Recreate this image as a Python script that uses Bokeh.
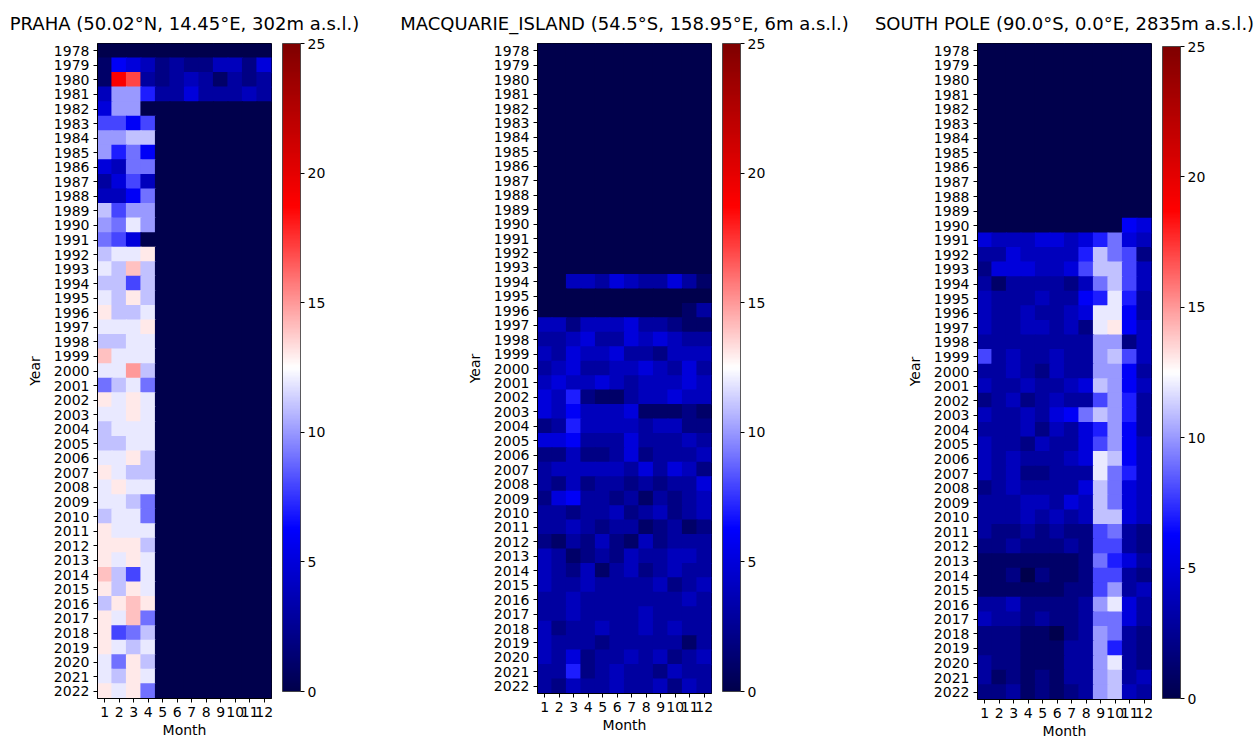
import numpy as np
from bokeh.plotting import figure
from bokeh.layouts import row
from bokeh.models import (ColumnDataSource, LinearColorMapper, ColorBar, FixedTicker,
                          Range1d, Title, Label)
from bokeh.embed import file_html
from bokeh.resources import INLINE

years = list(range(1978, 2023))
months = list(range(1, 13))
cbar_ticks = [0, 5, 10, 15, 20, 25]

titles = ["PRAHA (50.02°N, 14.45°E, 302m a.s.l.)",
          "MACQUARIE_ISLAND (54.5°S, 158.95°E, 6m a.s.l.)",
          "SOUTH POLE (90.0°S, 0.0°E, 2835m a.s.l.)"]

Z = [0] * 12

praha = [
    Z,
    [1, 6, 5, 4, 2, 3, 2, 2, 4, 4, 2, 5],
    [1, 19, 17, 3, 2, 3, 4, 3, 1, 3, 2, 3],
    [4, 10, 10, 7, 3, 3, 5, 3, 3, 3, 4, 3],
    [5, 10, 10, 0, 0, 0, 0, 0, 0, 0, 0, 0],
    [8, 8, 6, 8, 0, 0, 0, 0, 0, 0, 0, 0],
    [10, 10, 11, 11, 0, 0, 0, 0, 0, 0, 0, 0],
    [10, 7, 9, 6, 0, 0, 0, 0, 0, 0, 0, 0],
    [5, 4, 9, 9, 0, 0, 0, 0, 0, 0, 0, 0],
    [3, 5, 8, 4, 0, 0, 0, 0, 0, 0, 0, 0],
    [4, 4, 6, 9, 0, 0, 0, 0, 0, 0, 0, 0],
    [11, 8, 10, 10, 0, 0, 0, 0, 0, 0, 0, 0],
    [10, 9, 12, 10, 0, 0, 0, 0, 0, 0, 0, 0],
    [9, 8, 5, 0, 0, 0, 0, 0, 0, 0, 0, 0],
    [11, 12, 12, 13, 0, 0, 0, 0, 0, 0, 0, 0],
    [12, 11, 14, 11, 0, 0, 0, 0, 0, 0, 0, 0],
    [11, 11, 8, 11, 0, 0, 0, 0, 0, 0, 0, 0],
    [12, 11, 13, 11, 0, 0, 0, 0, 0, 0, 0, 0],
    [13, 11, 11, 12, 0, 0, 0, 0, 0, 0, 0, 0],
    [12, 12, 12, 13, 0, 0, 0, 0, 0, 0, 0, 0],
    [11, 11, 12, 12, 0, 0, 0, 0, 0, 0, 0, 0],
    [14, 12, 12, 12, 0, 0, 0, 0, 0, 0, 0, 0],
    [12, 12, 15, 11, 0, 0, 0, 0, 0, 0, 0, 0],
    [9, 11, 12, 9, 0, 0, 0, 0, 0, 0, 0, 0],
    [13, 12, 13, 12, 0, 0, 0, 0, 0, 0, 0, 0],
    [12, 12, 13, 12, 0, 0, 0, 0, 0, 0, 0, 0],
    [11, 12, 12, 12, 0, 0, 0, 0, 0, 0, 0, 0],
    [11, 11, 12, 12, 0, 0, 0, 0, 0, 0, 0, 0],
    [12, 12, 13, 11, 0, 0, 0, 0, 0, 0, 0, 0],
    [13, 12, 11, 11, 0, 0, 0, 0, 0, 0, 0, 0],
    [12, 13, 12, 12, 0, 0, 0, 0, 0, 0, 0, 0],
    [12, 12, 11, 9, 0, 0, 0, 0, 0, 0, 0, 0],
    [11, 12, 12, 9, 0, 0, 0, 0, 0, 0, 0, 0],
    [13, 12, 12, 12, 0, 0, 0, 0, 0, 0, 0, 0],
    [13, 13, 13, 11, 0, 0, 0, 0, 0, 0, 0, 0],
    [13, 12, 13, 12, 0, 0, 0, 0, 0, 0, 0, 0],
    [14, 11, 8, 12, 0, 0, 0, 0, 0, 0, 0, 0],
    [13, 11, 13, 12, 0, 0, 0, 0, 0, 0, 0, 0],
    [11, 13, 14, 13, 0, 0, 0, 0, 0, 0, 0, 0],
    [13, 12, 14, 9, 0, 0, 0, 0, 0, 0, 0, 0],
    [13, 8, 9, 11, 0, 0, 0, 0, 0, 0, 0, 0],
    [13, 12, 11, 12, 0, 0, 0, 0, 0, 0, 0, 0],
    [12, 9, 13, 11, 0, 0, 0, 0, 0, 0, 0, 0],
    [12, 11, 13, 12, 0, 0, 0, 0, 0, 0, 0, 0],
    [13, 12, 13, 9, 0, 0, 0, 0, 0, 0, 0, 0],
]

macquarie = [Z] * 16 + [
    [0, 0, 4, 4, 3, 5, 4, 3, 3, 5, 3, 1],
    Z,
    [0, 0, 0, 0, 0, 0, 0, 0, 0, 0, 1, 3],
    [4, 4, 2, 4, 4, 4, 5, 3, 3, 2, 1, 1],
    [3, 3, 4, 5, 3, 3, 5, 4, 5, 4, 3, 3],
    [4, 3, 5, 4, 4, 5, 3, 3, 2, 4, 4, 4],
    [3, 4, 5, 3, 3, 4, 4, 5, 4, 3, 5, 3],
    [4, 5, 4, 4, 5, 4, 3, 4, 4, 4, 5, 4],
    [5, 4, 7, 2, 1, 1, 3, 4, 4, 5, 4, 4],
    [5, 4, 6, 4, 4, 4, 5, 1, 1, 1, 2, 1],
    [2, 3, 7, 4, 4, 4, 4, 3, 4, 4, 2, 2],
    [5, 5, 6, 3, 3, 3, 5, 3, 3, 3, 4, 3],
    [2, 2, 4, 2, 2, 3, 5, 2, 3, 3, 3, 4],
    [3, 4, 4, 4, 4, 4, 3, 5, 3, 5, 4, 2],
    [3, 2, 4, 2, 3, 3, 2, 3, 2, 3, 3, 5],
    [2, 5, 6, 3, 3, 2, 3, 1, 3, 2, 3, 4],
    [3, 3, 2, 3, 3, 4, 2, 3, 4, 2, 3, 4],
    [3, 3, 4, 3, 2, 3, 3, 1, 2, 3, 1, 2],
    [2, 1, 3, 2, 4, 2, 1, 4, 2, 3, 3, 3],
    [4, 3, 1, 2, 3, 2, 4, 3, 3, 4, 4, 3],
    [4, 3, 2, 4, 1, 3, 4, 2, 3, 4, 3, 3],
    [4, 3, 3, 4, 3, 3, 3, 3, 4, 2, 3, 4],
    [3, 3, 4, 3, 3, 3, 3, 3, 3, 3, 4, 3],
    [3, 3, 4, 3, 3, 3, 3, 4, 3, 3, 3, 3],
    [4, 2, 3, 3, 4, 3, 3, 4, 3, 4, 3, 3],
    [4, 3, 3, 3, 2, 3, 3, 3, 3, 3, 1, 3],
    [4, 3, 5, 2, 3, 3, 4, 3, 4, 2, 3, 4],
    [3, 3, 7, 2, 3, 4, 3, 3, 2, 4, 3, 3],
    [3, 2, 4, 3, 3, 4, 3, 3, 4, 2, 4, 3],
]

south_pole = [Z] * 12 + [
    [0, 0, 0, 0, 0, 0, 0, 0, 0, 0, 6, 5],
    [5, 4, 4, 4, 5, 5, 4, 5, 7, 9, 5, 4],
    [3, 3, 5, 4, 4, 4, 4, 7, 11, 9, 8, 2],
    [2, 5, 5, 5, 4, 4, 5, 8, 11, 11, 8, 4],
    [3, 1, 3, 3, 3, 3, 2, 4, 9, 11, 8, 4],
    [4, 3, 3, 3, 4, 3, 3, 6, 7, 12, 7, 3],
    [4, 3, 3, 4, 3, 3, 4, 5, 12, 12, 6, 3],
    [4, 3, 3, 4, 4, 3, 4, 2, 12, 13, 6, 4],
    [3, 3, 3, 3, 3, 3, 3, 3, 10, 10, 2, 4],
    [8, 3, 4, 3, 3, 4, 3, 3, 10, 11, 8, 4],
    [3, 3, 4, 3, 2, 4, 3, 3, 10, 10, 6, 3],
    [4, 3, 3, 4, 3, 3, 4, 5, 11, 10, 6, 4],
    [2, 3, 4, 2, 3, 4, 3, 3, 8, 10, 7, 3],
    [4, 3, 3, 4, 3, 5, 6, 9, 11, 10, 7, 3],
    [3, 3, 3, 4, 2, 4, 3, 5, 7, 10, 6, 3],
    [4, 3, 3, 2, 4, 3, 3, 5, 8, 10, 6, 4],
    [4, 3, 4, 3, 3, 3, 4, 5, 12, 11, 6, 4],
    [4, 3, 4, 2, 2, 3, 3, 3, 12, 9, 7, 4],
    [2, 3, 4, 3, 3, 3, 3, 5, 11, 9, 5, 4],
    [3, 3, 3, 4, 4, 3, 5, 4, 11, 9, 5, 4],
    [3, 3, 3, 4, 3, 4, 3, 4, 11, 11, 5, 4],
    [3, 2, 2, 3, 2, 3, 2, 2, 8, 9, 3, 2],
    [2, 2, 3, 2, 2, 2, 3, 2, 8, 8, 3, 2],
    [1, 1, 1, 1, 1, 1, 1, 2, 9, 7, 5, 3],
    [1, 1, 2, 0, 2, 1, 1, 2, 8, 8, 3, 2],
    [1, 1, 1, 1, 1, 1, 2, 2, 8, 10, 3, 4],
    [3, 3, 4, 2, 2, 2, 2, 3, 10, 12, 5, 3],
    [4, 3, 3, 2, 3, 2, 2, 3, 9, 9, 5, 3],
    [2, 2, 2, 1, 1, 0, 2, 3, 10, 9, 3, 2],
    [2, 2, 2, 1, 1, 1, 3, 3, 10, 7, 3, 2],
    [3, 2, 2, 1, 1, 1, 3, 3, 10, 12, 3, 2],
    [3, 1, 2, 1, 2, 1, 3, 3, 10, 11, 3, 4],
    [2, 2, 3, 1, 2, 1, 2, 3, 10, 11, 4, 3],
]


def seismic_palette(n=256):
    pos = [0.0, 0.25, 0.5, 0.75, 1.0]
    r = [0.0, 0.0, 1.0, 1.0, 0.5]
    g = [0.0, 0.0, 1.0, 0.0, 0.0]
    b = [0.3, 1.0, 1.0, 0.0, 0.0]
    t = np.linspace(0, 1, n)
    rr, gg, bb = (np.interp(t, pos, c) for c in (r, g, b))
    return ["#%02x%02x%02x" % (int(round(a * 255)), int(round(c * 255)), int(round(d * 255)))
            for a, c, d in zip(rr, gg, bb)]


PAL = seismic_palette()
FONT = "DejaVu Sans"
FS = "14px"


def make_panel(title, data, frame_h, left_b, right_b, cb_h, cb_y):
    xs, ys, vs = [], [], []
    for yi, yr in enumerate(years):
        for mi, m in enumerate(months):
            xs.append(m)
            ys.append(yr)
            vs.append(data[yi][mi])
    src = ColumnDataSource(dict(month=xs, year=ys, val=vs))
    mapper = LinearColorMapper(palette=PAL, low=0, high=25)

    p = figure(frame_width=174, frame_height=frame_h, output_backend="svg",
               toolbar_location=None, x_range=Range1d(0.5, 12.5),
               y_range=Range1d(2022.5, 1977.5),
               min_border_left=left_b, min_border_right=right_b,
               min_border_top=42, min_border_bottom=20,
               background_fill_color="white", border_fill_color="white")
    p.title = Title(text=title, align="center", text_font=FONT,
                    text_font_size="18px", text_font_style="normal", text_color="black",
                    standoff=20)
    p.rect(x="month", y="year", width=1.08, height=1.08, source=src,
           fill_color={"field": "val", "transform": mapper}, line_color=None)

    p.grid.visible = False
    p.outline_line_color = "black"
    p.outline_line_width = 1
    for ax in (p.xaxis[0], p.yaxis[0]):
        ax.major_label_text_font = FONT
        ax.major_label_text_font_size = FS
        ax.major_label_text_color = "black"
        ax.axis_label_text_font = FONT
        ax.axis_label_text_font_size = FS
        ax.axis_label_text_font_style = "normal"
        ax.axis_label_text_color = "black"
        ax.major_tick_in = 0
        ax.major_tick_out = 4
        ax.minor_tick_in = 0
        ax.minor_tick_out = 0
        ax.axis_line_color = "black"
        ax.major_tick_line_color = "black"
        ax.major_label_standoff = 4
        ax.axis_label_standoff = 2
    p.xaxis.ticker = FixedTicker(ticks=months)
    p.yaxis.ticker = FixedTicker(ticks=years)
    p.xaxis.axis_label = "Month"
    p.yaxis.axis_label = "Year"
    p.yaxis.axis_label_standoff = 8

    cb = ColorBar(color_mapper=mapper, ticker=FixedTicker(ticks=cbar_ticks),
                  width=18, height=cb_h, padding=0, margin=0, location=(11, cb_y),
                  major_tick_in=0, major_tick_out=4, major_tick_line_color="black",
                  major_label_text_font=FONT, major_label_text_font_size=FS,
                  major_label_text_color="black", label_standoff=3,
                  bar_line_color="#333333", bar_line_width=0.8,
                  background_fill_color=None, border_line_color=None)
    p.add_layout(cb, "right")

    lab = Label(x=243, y=frame_h - 324, x_units="screen", y_units="screen",
                text="# of profiles", angle=90, angle_units="deg",
                text_align="center", text_baseline="middle",
                text_font=FONT, text_font_size=FS, text_color="black")
    p.add_layout(lab)
    return p


p1 = make_panel(titles[0], praha, 655, 97, 129, 648, 7)
p2 = make_panel(titles[1], macquarie, 650, 137, 140, 648, 2)
p3 = make_panel(titles[2], south_pole, 656, 126, 104, 652, 1)

layout = row(p1, p2, p3, spacing=0)
open("out.html", "w").write(file_html(layout, INLINE))
